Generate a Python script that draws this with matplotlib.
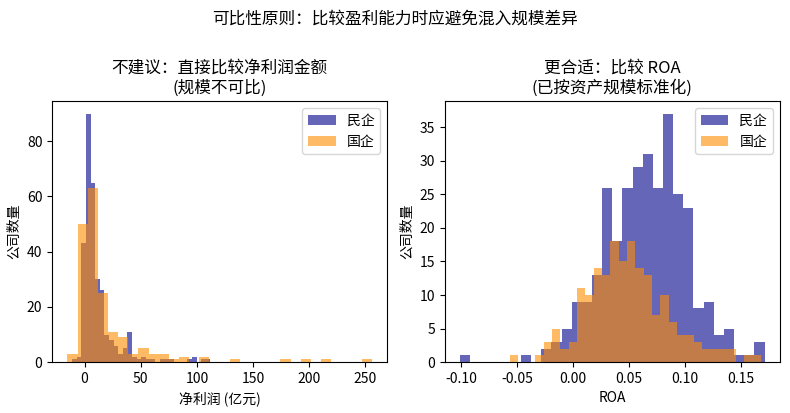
import matplotlib
matplotlib.use("Agg")
import matplotlib.pyplot as plt
import numpy as np

plt.rcParams['font.family'] = ['Noto Sans CJK SC', 'DejaVu Sans']
plt.rcParams['axes.unicode_minus'] = False

# Net profit histograms (bin edges from data range, 30 bins each)
profit_private_range = (-11.0, 112.0)
profit_private_counts = [1, 2, 43, 90, 65, 30, 26, 10, 8, 6, 3, 5, 11, 2, 1,
                         2, 1, 1, 0, 1, 1, 1, 0, 0, 0, 1, 2, 0, 1, 1]
profit_state_range = (-15.3, 255.6)
profit_state_counts = [3, 50, 63, 25, 11, 9, 3, 5, 3, 3, 1, 2, 0, 2, 0,
                       0, 1, 0, 0, 0, 0, 1, 0, 1, 0, 1, 0, 0, 0, 1]

# ROA histograms
roa_private_range = (-0.101, 0.171)
roa_private_counts = [1, 0, 0, 0, 0, 0, 1, 0, 2, 3, 5, 9, 9, 13, 26,
                      18, 26, 29, 31, 26, 37, 25, 23, 8, 9, 4, 5, 1, 1, 3]
roa_state_range = (-0.0563, 0.1676)
roa_state_counts = [1, 0, 0, 1, 3, 5, 2, 3, 11, 10, 14, 13, 18, 15, 18,
                    14, 13, 7, 10, 6, 4, 4, 3, 2, 2, 2, 2, 0, 1, 1]


def draw_hist(ax, rng, counts, color, label):
    edges = np.linspace(rng[0], rng[1], len(counts) + 1)
    ax.hist(edges[:-1], bins=edges, weights=counts, color=color, alpha=0.6, label=label)


fig, (ax1, ax2) = plt.subplots(1, 2, figsize=(7.9, 4.13), dpi=100)
fig.subplots_adjust(left=0.066, right=0.987, top=0.755, bottom=0.123, wspace=0.173)

draw_hist(ax1, profit_private_range, profit_private_counts, 'darkblue', '民企')
draw_hist(ax1, profit_state_range, profit_state_counts, 'darkorange', '国企')
ax1.set_title('不建议：直接比较净利润金额\n(规模不可比)')
ax1.set_xlabel('净利润 (亿元)')
ax1.set_ylabel('公司数量')
ax1.legend(loc='upper right')

draw_hist(ax2, roa_private_range, roa_private_counts, 'darkblue', '民企')
draw_hist(ax2, roa_state_range, roa_state_counts, 'darkorange', '国企')
ax2.set_title('更合适：比较 ROA\n(已按资产规模标准化)')
ax2.set_xlabel('ROA')
ax2.set_ylabel('公司数量')
ax2.legend(loc='upper right')

fig.suptitle('可比性原则：比较盈利能力时应避免混入规模差异', y=0.975)
fig.savefig('out.png', dpi=100)
